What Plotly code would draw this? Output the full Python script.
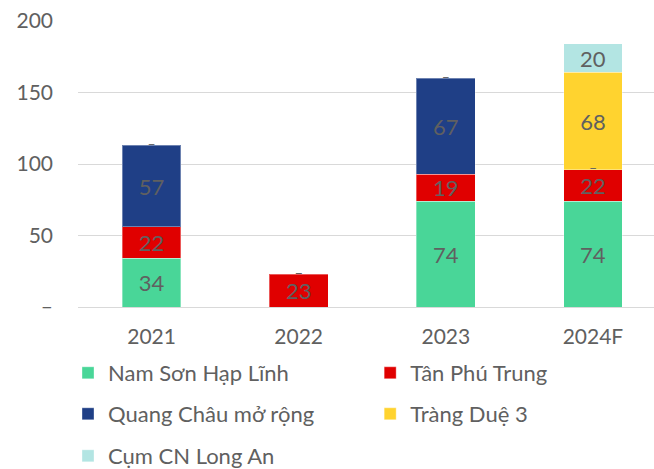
import plotly.graph_objects as go

years = ["2021", "2022", "2023", "2024F"]
nam_son = [34, None, 74, 74]
tan_phu_trung = [22, 23, 19, 22]
quang_chau = [57, 0, 67, 0]
trang_due = [0, 0, 0, 68]
cum_long_an = [None, None, None, 20]

series = [
    ("Nam Sơn Hạp Lĩnh", nam_son, "#49D698"),
    ("Tân Phú Trung", tan_phu_trung, "#E00000"),
    ("Quang Châu mở rộng", quang_chau, "#1F3F86"),
    ("Tràng Duệ 3", trang_due, "#FFD32F"),
    ("Cụm CN Long An", cum_long_an, "#B3E5E3"),
]

FONT = "Lato"
GRAY = "#606060"

# legend slots: two columns, three rows (container coordinates)
legend_cols = [0.104, 0.566]
legend_rows = [0.2047, 0.1173, 0.0277]
legend_names = ["legend", "legend2", "legend3", "legend4", "legend5"]

fig = go.Figure()
base = [0.0] * len(years)
dash_x, dash_y = [], []
for k, (name, vals, color) in enumerate(series):
    shown = [v if v else None for v in vals]
    fig.add_trace(go.Bar(
        x=years, y=shown, name=name, legend=legend_names[k],
        marker=dict(color=color, line=dict(color="rgba(255,255,255,0.35)", width=1)),
        text=[str(v) if v else "" for v in vals],
        textposition="inside", insidetextanchor="middle",
        textangle=0, constraintext="none",
        textfont=dict(family=FONT, size=22, color=GRAY),
        hoverinfo="x+y+name",
    ))
    for i, v in enumerate(vals):
        if v == 0:
            dash_x.append(years[i])
            dash_y.append(base[i])
        if v:
            base[i] += v

# zero-valued segments are labelled with a dash at their stack position
fig.add_trace(go.Scatter(
    x=dash_x, y=dash_y, mode="text", text=["–"] * len(dash_x),
    textfont=dict(family=FONT, size=14, color=GRAY),
    showlegend=False, hoverinfo="skip",
))

leg_layout = {}
for k, lname in enumerate(legend_names):
    leg_layout[lname] = dict(
        orientation="h", xref="container", yref="container",
        x=legend_cols[k % 2], y=legend_rows[k // 2],
        xanchor="left", yanchor="middle",
        font=dict(family=FONT, size=22, color=GRAY),
        bgcolor="rgba(0,0,0,0)", itemclick=False, itemdoubleclick=False,
    )

fig.update_layout(
    width=654, height=469,
    margin=dict(l=78, r=0, t=21, b=162, autoexpand=False),
    paper_bgcolor="white", plot_bgcolor="white",
    barmode="stack", bargap=0.6,
    font=dict(family=FONT, color=GRAY, size=22),
    showlegend=True,
    xaxis=dict(
        range=[-0.5, 3.415], showgrid=False, showline=False, ticks="",
        tickfont=dict(family=FONT, size=21, color=GRAY),
        ticklabelstandoff=15,
    ),
    yaxis=dict(
        range=[0, 200], tickvals=[0, 50, 100, 150, 200],
        ticktext=["–", "50", "100", "150", "200"],
        showgrid=True, gridcolor="#D9D9D9", gridwidth=1,
        zeroline=True, zerolinecolor="#D9D9D9", zerolinewidth=1,
        showline=False, ticks="",
        tickfont=dict(family=FONT, size=21, color=GRAY),
        ticklabelstandoff=24,
    ),
    **leg_layout,
)

fig.write_html("out.html")
